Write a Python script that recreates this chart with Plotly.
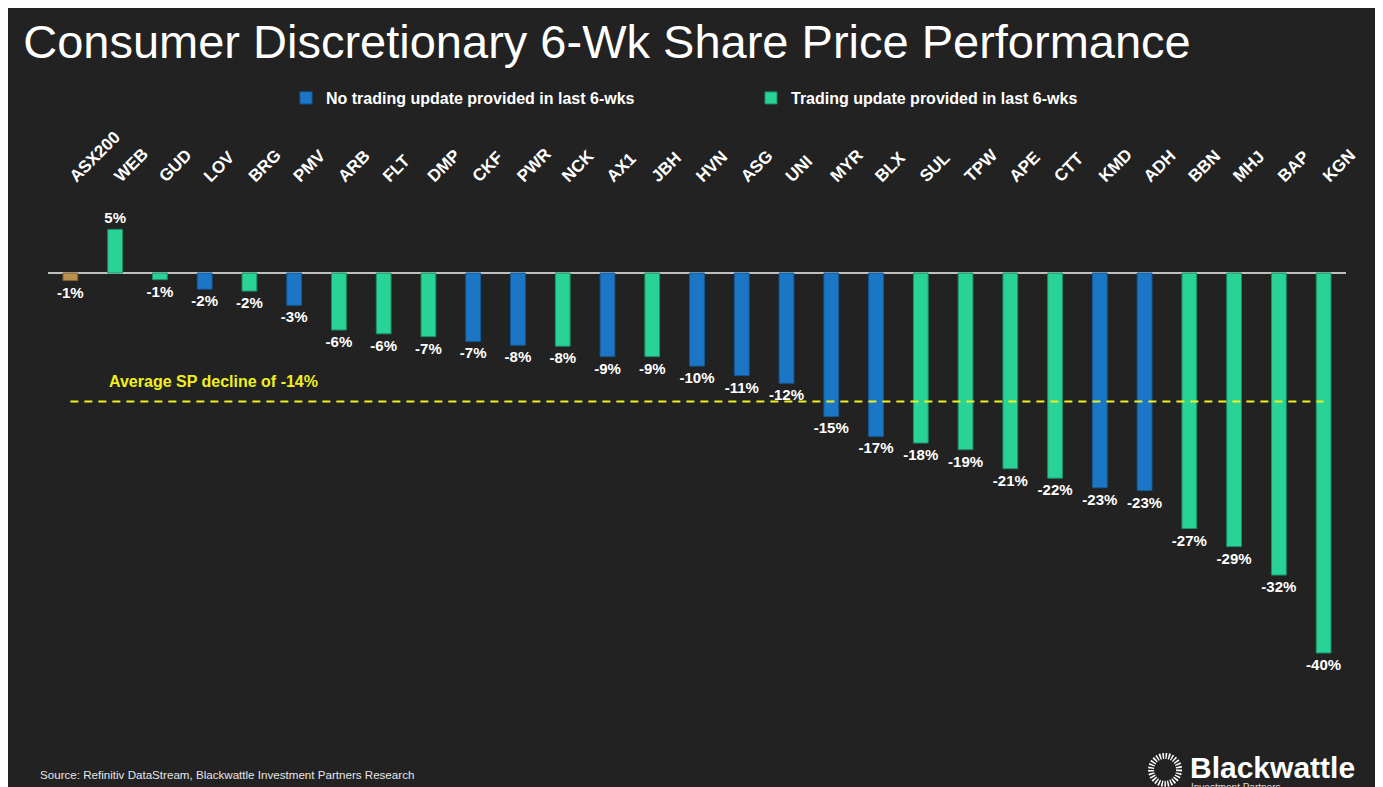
import plotly.graph_objects as go

# ---- data ----
tickers = ["ASX200", "WEB", "GUD", "LOV", "BRG", "PMV", "ARB", "FLT", "DMP", "CKF",
           "PWR", "NCK", "AX1", "JBH", "HVN", "ASG", "UNI", "MYR", "BLX", "SUL",
           "TPW", "APE", "CTT", "KMD", "ADH", "BBN", "MHJ", "BAP", "KGN"]
perf_pct = [-0.8, 4.6, -0.7, -1.7, -1.9, -3.4, -6.0, -6.4, -6.7, -7.2,
            -7.6, -7.7, -8.8, -8.8, -9.8, -10.8, -11.6, -15.1, -17.2, -17.9,
            -18.6, -20.6, -21.6, -22.6, -22.9, -26.9, -28.8, -31.8, -40.0]
# "index" = benchmark, "none" = no trading update, "update" = trading update provided
group = ["index", "update", "update", "none", "update", "none", "update", "update", "update", "none",
         "none", "update", "none", "update", "none", "none", "none", "none", "none", "update",
         "update", "update", "update", "none", "none", "update", "update", "update", "update"]

legend_names = {"none": "No trading update provided in last 6-wks",
                "update": "Trading update provided in last 6-wks"}

stock_vals = [v for t, v in zip(tickers, perf_pct) if t != "ASX200"]
avg_decline = sum(stock_vals) / len(stock_vals)

# ---- styling ----
BG = "#222222"
FONT = "Liberation Sans, Arial, sans-serif"
colors = {"index": "#B8914F", "none": "#1B76C6", "update": "#29D396"}
edges = {"index": "#7a6034", "none": "#145a96", "update": "#1c8f66"}
W, H = 1375, 787

fig = go.Figure()
for g in ["index", "none", "update"]:
    xs = [t for t, gg in zip(tickers, group) if gg == g]
    ys = [v for v, gg in zip(perf_pct, group) if gg == g]
    fig.add_trace(go.Bar(
        x=xs, y=ys,
        name=legend_names.get(g, "ASX200"),
        showlegend=(g != "index"),
        marker=dict(color=colors[g], line=dict(color=edges[g], width=1)),
        texttemplate="%{y:.0f}%",
        textposition="outside",
        textfont=dict(family=FONT, size=15, color="white", weight="bold"),
        constraintext="none",
        cliponaxis=False,
        hovertemplate="%{x}: %{y:.1f}%<extra></extra>",
    ))

# average line
fig.add_trace(go.Scatter(
    x=[tickers[0], tickers[-1]], y=[avg_decline, avg_decline],
    mode="lines", showlegend=False, hoverinfo="skip",
    line=dict(color="#F0F020", width=2, dash="8px,6px"),
))

fig.add_annotation(
    xref="paper", yref="y", x=0.0455, y=avg_decline + 2.05,
    xanchor="left", yanchor="middle", showarrow=False,
    text=f"Average SP decline of {avg_decline:.0f}%",
    font=dict(family=FONT, size=16, color="#F0F020", weight="bold"),
)

# source
fig.add_annotation(
    xref="paper", yref="paper", x=-0.0077, y=-0.147,
    xanchor="left", yanchor="middle", showarrow=False,
    text="Source: Refinitiv DataStream, Blackwattle Investment Partners Research",
    font=dict(family=FONT, size=11.6, color="#E6E6E6"),
)

# logo
fig.add_annotation(
    xref="paper", yref="paper", x=0.8783, y=-0.1333,
    xanchor="left", yanchor="middle", showarrow=False,
    text="Blackwattle",
    font=dict(family=FONT, size=30, color="white", weight="bold"),
)
fig.add_annotation(
    xref="paper", yref="paper", x=0.879, y=-0.156,
    xanchor="left", yanchor="top", showarrow=False,
    text="Investment Partners",
    font=dict(family=FONT, size=10, color="#DDDDDD"),
)
fig.add_shape(
    type="circle", xref="paper", yref="paper",
    xsizemode="pixel", ysizemode="pixel",
    xanchor=0.8606, yanchor=-0.137,
    x0=-14, x1=14, y0=-14, y1=14,
    line=dict(color="white", width=6, dash="1.5px,1.5px"),
)

fig.update_layout(
    width=W, height=H,
    paper_bgcolor=BG, plot_bgcolor=BG,
    margin=dict(l=40, r=W - 40 - 1298, t=182, b=95),
    barmode="relative",
    bargap=0.67,
    title=dict(
        text="Consumer Discretionary 6-Wk Share Price Performance",
        x=15.2 / W, xanchor="left", xref="container",
        y=0.957, yanchor="middle", yref="container",
        font=dict(family=FONT, size=47, color="white"),
    ),
    legend=dict(
        orientation="h",
        xref="container", yref="container",
        x=278 / W, xanchor="left", y=0.8856, yanchor="middle",
        font=dict(family=FONT, size=16, color="white", weight="bold"),
        bgcolor="rgba(0,0,0,0)",
        entrywidth=420, entrywidthmode="pixels",
        traceorder="normal",
    ),
    xaxis=dict(
        side="top", type="category",
        categoryorder="array", categoryarray=tickers,
        tickangle=-45, showgrid=False, showline=False, ticks="",
        tickfont=dict(family=FONT, size=17, color="white", weight="bold"),
        automargin=False, fixedrange=True,
    ),
    yaxis=dict(
        range=[-44.95, 8.74], showgrid=False, showticklabels=False, ticks="",
        zeroline=True, zerolinecolor="#BFBFBF", zerolinewidth=1.5,
        automargin=False, fixedrange=True,
    ),
    showlegend=True,
)

fig.write_html("out.html")
